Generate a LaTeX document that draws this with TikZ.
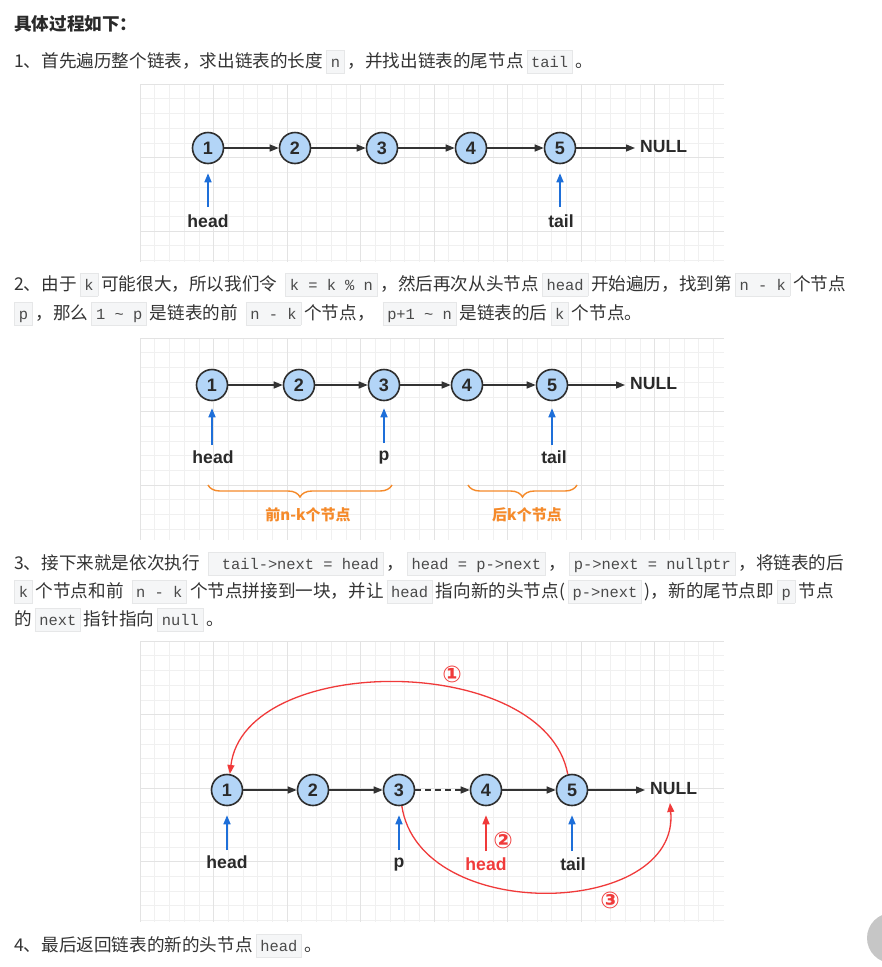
\documentclass[tikz,border=0pt]{standalone}
\usepackage{fontspec}
\setmainfont{Noto Sans CJK SC}
\newfontfamily\codefont{Liberation Mono}
\newfontfamily\labfont{Liberation Sans}
\newfontfamily\symfont{DejaVu Sans}
\usetikzlibrary{arrows.meta,decorations.pathreplacing}
\definecolor{txt}{HTML}{333333}
\definecolor{txtdark}{HTML}{2A2A2A}
\definecolor{codebg}{HTML}{F5F6F7}
\definecolor{codeborder}{HTML}{E6E7E8}
\definecolor{codetext}{HTML}{4A4A4A}
\definecolor{nodefill}{HTML}{B3D5F7}
\definecolor{nodeborder}{HTML}{2E2E2E}
\definecolor{arrowcol}{HTML}{333333}
\definecolor{blueptr}{HTML}{1E6FD9}
\definecolor{redarc}{HTML}{F03A3A}
\definecolor{orangeb}{HTML}{F58A2A}
\definecolor{gridminor}{HTML}{F0F0F0}
\definecolor{gridmajor}{HTML}{E3E3E3}
\newcommand{\cbox}[1]{\hspace{3pt}{\setlength{\fboxsep}{0pt}\setlength{\fboxrule}{0.6pt}\fcolorbox{codeborder}{codebg}{\rule[-5.5pt]{0pt}{22pt}\hspace{4pt}{\codefont\fontsize{15.4}{18}\selectfont\color{codetext}#1}\hspace{4pt}}}\hspace{3pt}}
\newcommand{\gridpanel}[4]{%
  \begin{scope}
  \clip (#1,#2) rectangle (#3,#4);
  \pgfmathsetmacro{\gxa}{#1+14.7}
  \foreach \gx in {#1,\gxa,...,#3} {\draw[gridminor, line width=0.6pt] (\gx,#2) -- (\gx,#4);}
  \pgfmathsetmacro{\gya}{#2+14.7}
  \foreach \gy in {#2,\gya,...,#4} {\draw[gridminor, line width=0.6pt] (#1,\gy) -- (#3,\gy);}
  \pgfmathsetmacro{\gxb}{#1+73.5}
  \foreach \gx in {#1,\gxb,...,#3} {\draw[gridmajor, line width=0.7pt] (\gx,#2) -- (\gx,#4);}
  \pgfmathsetmacro{\gyb}{#2+73.5}
  \foreach \gy in {#2,\gyb,...,#4} {\draw[gridmajor, line width=0.7pt] (#1,\gy) -- (#3,\gy);}
  \end{scope}}
\tikzset{
  para/.style={anchor=base west, inner sep=0pt, text=txt, font=\fontsize{17.6}{20}\selectfont},
  ln/.style={circle, draw=nodeborder, line width=1.6pt, fill=nodefill, minimum size=31pt, inner sep=0pt, font=\labfont\bfseries\fontsize{18}{20}\selectfont, text=txtdark},
  lab/.style={anchor=base, inner sep=0pt, text height=13pt, text depth=4pt, font=\labfont\bfseries\fontsize{17.6}{20}\selectfont, text=txtdark},
  nxt/.style={draw=arrowcol, line width=1.4pt, -{Triangle[length=9pt,width=7pt]}},
  ptr/.style={draw=blueptr, line width=1.6pt, -{Triangle[length=9pt,width=7pt]}},
  redptr/.style={draw=redarc, line width=1.6pt, -{Triangle[length=9pt,width=7pt]}},
  arcline/.style={draw=redarc, line width=1.3pt, -{Triangle[length=9pt,width=7pt]}},
  bracestyle/.style={draw=orangeb, line width=1.4pt, decorate, decoration={brace, amplitude=12pt, mirror}},
  bracelab/.style={inner sep=0pt, text=orangeb, font=\bfseries\fontsize{15}{17}\selectfont},
  circnum/.style={inner sep=0pt, text=redarc, font=\symfont\bfseries\fontsize{23}{25}\selectfont}
}
\begin{document}
\begin{tikzpicture}[x=1pt,y=-1pt]
\useasboundingbox (0,0) rectangle (882,967);
\fill[white] (0,0) rectangle (882,967);

% ---------- grids ----------
\gridpanel{140}{84}{724}{262}
\gridpanel{140}{338}{724}{540}
\gridpanel{140}{641}{724}{922}

% ---------- text ----------
\node[para, text=txtdark] (title) at (14,30) {\bfseries 具体过程如下：};
\node[para] (l1) at (14,67) {1、首先遍历整个链表，求出链表的长度\cbox{n}，并找出链表的尾节点\cbox{tail}。};
\node[para] (l2a) at (14,290) {2、由于\cbox{k}可能很大，所以我们令\hspace{5pt}\cbox{k = k \% n}，然后再次从头节点\cbox{head}开始遍历，找到第\cbox{n - k}个节点};
\node[para] (l2b) at (14,319) {\hspace{-3pt}\cbox{p}，那么\cbox{1 \textasciitilde{} p}是链表的前\hspace{5pt}\cbox{n - k}个节点，\hspace{5pt}\cbox{p+1 \textasciitilde{} n}是链表的后\cbox{k}个节点。};
\node[para] (l3a) at (14,569) {3、接下来就是依次执行\hspace{5pt}\cbox{\ tail->next = head}，\cbox{head = p->next}，\cbox{p->next = nullptr}，将链表的后};
\node[para] (l3b) at (14,597) {\hspace{-3pt}\cbox{k}个节点和前\hspace{5pt}\cbox{n - k}个节点拼接到一块，并让\cbox{head}指向新的头节点(\cbox{p->next})，新的尾节点即\cbox{p}节点};
\node[para] (l3c) at (14,625) {的\cbox{next}指针指向\cbox{null}。};
\node[para] (l4) at (14,951) {4、最后返回链表的新的头节点\cbox{head}。};

% ---------- diagram 1 ----------
\node[ln] (a1) at (208,148) {1};
\node[ln] (a2) at (295,148) {2};
\node[ln] (a3) at (382,148) {3};
\node[ln] (a4) at (471,148) {4};
\node[ln] (a5) at (560,148) {5};
\node[lab, anchor=west] (anull) at (640,148) {NULL};
\draw[nxt] (a1) -- (a2);
\draw[nxt] (a2) -- (a3);
\draw[nxt] (a3) -- (a4);
\draw[nxt] (a4) -- (a5);
\draw[nxt, shorten >=5pt] (a5) -- (anull);
\node[lab] (ahead) at (208,227.5) {head};
\node[lab] (atail) at (561,227.5) {tail};
\coordinate (ah0) at (208,207);
\coordinate (at0) at (560,207);
\draw[ptr, shorten >=9pt] (ah0) -- (a1);
\draw[ptr, shorten >=9pt] (at0) -- (a5);

% ---------- diagram 2 ----------
\node[ln] (b1) at (212,385) {1};
\node[ln] (b2) at (299,385) {2};
\node[ln] (b3) at (384,385) {3};
\node[ln] (b4) at (467,385) {4};
\node[ln] (b5) at (552,385) {5};
\node[lab, anchor=west] (bnull) at (630,385) {NULL};
\draw[nxt] (b1) -- (b2);
\draw[nxt] (b2) -- (b3);
\draw[nxt] (b3) -- (b4);
\draw[nxt] (b4) -- (b5);
\draw[nxt, shorten >=5pt] (b5) -- (bnull);
\node[lab] (bhead) at (213,463.5) {head};
\node[lab] (bp) at (384,460) {p};
\node[lab] (btail) at (554,463.5) {tail};
\coordinate (bh0) at (212,445);
\coordinate (bp0) at (384,443);
\coordinate (bt0) at (552,445);
\draw[ptr, shorten >=7pt] (bh0) -- (b1);
\draw[ptr, shorten >=7pt] (bp0) -- (b3);
\draw[ptr, shorten >=7pt] (bt0) -- (b5);
\coordinate (br1a) at (208,485);
\coordinate (br1b) at (392,485);
\coordinate (br2a) at (468,485);
\coordinate (br2b) at (577,485);
\draw[bracestyle] (br1a) -- (br1b);
\draw[bracestyle] (br2a) -- (br2b);
\node[bracelab] (bl1) at (308,515) {前n-k个节点};
\node[bracelab] (bl2) at (527,515) {后k个节点};

% ---------- diagram 3 ----------
\node[ln] (c1) at (227,790) {1};
\node[ln] (c2) at (313,790) {2};
\node[ln] (c3) at (399,790) {3};
\node[ln] (c4) at (486,790) {4};
\node[ln] (c5) at (572,790) {5};
\node[lab, anchor=west] (cnull) at (650,790) {NULL};
\draw[nxt] (c1) -- (c2);
\draw[nxt] (c2) -- (c3);
\draw[nxt, dash pattern=on 6pt off 4pt] (c3) -- (c4);
\draw[nxt] (c4) -- (c5);
\draw[nxt, shorten >=5pt] (c5) -- (cnull);
\node[lab] (chead) at (227,868.5) {head};
\node[lab] (cp) at (399,867) {p};
\node[lab, text=redarc] (cnewhead) at (486,870.5) {head};
\node[lab] (ctail) at (573,870.5) {tail};
\coordinate (ch0) at (227,850);
\coordinate (cp0) at (399,850);
\coordinate (cn0) at (486,851);
\coordinate (ct0) at (572,851);
\draw[ptr, shorten >=9pt] (ch0) -- (c1);
\draw[ptr, shorten >=9pt] (cp0) -- (c3);
\draw[redptr, shorten >=9pt] (cn0) -- (c4);
\draw[ptr, shorten >=9pt] (ct0) -- (c5);
\draw[arcline] (c5.105) .. controls (545,652) and (245,652) .. (c1.80);
\coordinate (nullbot) at (670,803);
\draw[arcline] (c3.-80) .. controls (420,925) and (680,918) .. (nullbot);
\node[circnum] (k1) at (452,674) {①};
\node[circnum] (k2) at (503,840) {②};
\node[circnum] (k3) at (610,900) {③};

% ---------- scroll button ----------
\fill[gray!45] (892,938) circle (25);
\end{tikzpicture}
\end{document}
